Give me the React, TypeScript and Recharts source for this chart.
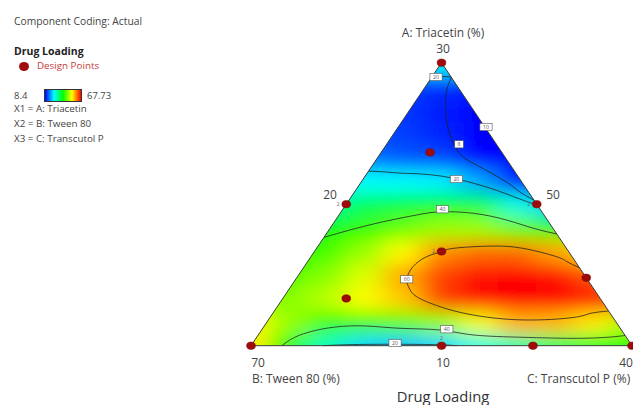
import React from 'react';
import { ComposedChart, XAxis, YAxis, Scatter, Line, Area } from 'recharts';

// ---------- colour scale (legend range) ----------
const VMIN = 8.4;
const VMAX = 67.73;
const colorStops: [number, number, number, number][] = [
  [0, 0, 0, 255],
  [0.25, 0, 255, 255],
  [0.5, 0, 255, 0],
  [0.75, 255, 255, 0],
  [1, 255, 0, 0],
];
function colorFor(v: number): string {
  let t = (v - VMIN) / (VMAX - VMIN);
  t = Math.max(0, Math.min(1, t));
  for (let i = 1; i < colorStops.length; i++) {
    const a = colorStops[i - 1];
    const b = colorStops[i];
    if (t <= b[0]) {
      const f = (t - a[0]) / (b[0] - a[0]);
      const r = Math.round(a[1] + (b[1] - a[1]) * f);
      const g = Math.round(a[2] + (b[2] - a[2]) * f);
      const bl = Math.round(a[3] + (b[3] - a[3]) * f);
      return `rgb(${r},${g},${bl})`;
    }
  }
  return 'rgb(255,0,0)';
}

// ---------- response surface (Drug Loading) ----------
// rows of the sampling grid: height in the triangle (0 = bottom edge, 1 = top vertex)
const fieldRowV = [-0.083, 0, 0.083, 0.167, 0.25, 0.333, 0.417, 0.5, 0.583, 0.667, 0.75, 0.833, 0.917, 1.0];
// first horizontal position of each row (columns step 0.1)
const fieldRowU0 = [-0.1, -0.1, -0.1, -0.1, 0.0, 0.0, 0.1, 0.1, 0.2, 0.2, 0.3, 0.3, 0.4, 0.4];
const fieldRowVals: number[][] = [
  [55, 54, 38, 27, 21, 20, 21, 25, 28, 32, 35, 38, 38],
  [55, 54, 38, 27, 21, 20, 21, 25, 28, 32, 35, 38, 38],
  [54, 53, 47, 41.5, 42, 43.5, 46.5, 52, 57.5, 57, 54, 48, 45],
  [46, 46, 46, 49, 53, 56, 64, 67, 67.7, 67.7, 67, 63, 58],
  [40, 43, 46, 51, 58, 64, 67, 67.7, 67.3, 63, 57],
  [36, 38, 42, 47, 53, 59.5, 61.5, 61.5, 58.5, 55, 52],
  [35, 37.5, 41, 44, 47, 47, 44, 39, 36],
  [28, 29, 33, 34.5, 35.5, 34, 25, 20, 20],
  [23, 23.5, 23, 22.5, 18, 8, 8],
  [16, 15, 13.5, 12.5, 8, 7, 7],
  [13, 12, 10.5, 7.5, 7],
  [12, 11.5, 10, 8, 8],
  [12, 11, 10],
  [20, 23, 20],
];
const fieldCells = fieldRowVals.flatMap((row, r) =>
  row.map((val, i) => ({ x: fieldRowU0[r] + i * 0.1, y: fieldRowV[r], val }))
);

// ---------- contour lines ----------
const toPts = (a: number[][]) => a.map(([x, y]) => ({ x, y }));
const contour20Top = toPts([[0.4747, 0.9495], [0.5, 0.951], [0.5253, 0.9495]]);
const contour10 = toPts([
  [0.526, 0.948], [0.514, 0.905], [0.511, 0.857], [0.513, 0.8], [0.52, 0.755], [0.535, 0.703],
  [0.554, 0.67], [0.5835, 0.6445], [0.662, 0.5855], [0.706, 0.543], [0.742, 0.515],
]);
const contour20Mid = toPts([
  [0.309, 0.617], [0.352, 0.614], [0.391, 0.61], [0.444, 0.607], [0.496, 0.6], [0.549, 0.586],
  [0.627, 0.557], [0.698, 0.522], [0.751, 0.497],
]);
const contour40Up = toPts([
  [0.192, 0.383], [0.26, 0.409], [0.347, 0.438], [0.435, 0.462], [0.496, 0.473], [0.583, 0.468],
  [0.671, 0.444], [0.741, 0.415], [0.802, 0.395],
]);
const contour60 = toPts([
  [0.863, 0.275], [0.829, 0.297], [0.802, 0.3145], [0.714, 0.344], [0.627, 0.352], [0.531, 0.344],
  [0.496, 0.331], [0.461, 0.3145], [0.425, 0.279], [0.409, 0.235], [0.415, 0.204], [0.435, 0.173],
  [0.496, 0.138], [0.583, 0.1085], [0.714, 0.091], [0.845, 0.0996], [0.89, 0.114], [0.938, 0.1226],
]);
const contour40Low = toPts([
  [0.081, 0], [0.129, 0.038], [0.215, 0.065], [0.304, 0.0696], [0.391, 0.0615], [0.496, 0.0555],
  [0.583, 0.038], [0.714, 0.0297], [0.845, 0.026], [0.934, 0.0297], [0.982, 0.036],
]);
const contour20Bot = toPts([[0.19, 0], [0.27, 0.004], [0.4, 0.005], [0.5, 0.003], [0.54, 0]]);
const contours = [contour20Top, contour10, contour20Mid, contour40Up, contour60, contour40Low, contour20Bot];

// contour value labels
const labelU = [0.4856, 0.6168, 0.546, 0.539, 0.5026, 0.4087, 0.514, 0.378];
const labelV = [0.9495, 0.7728, 0.7117, 0.589, 0.482, 0.2346, 0.058, 0.0095];
const labelText = ['20', '10', '8', '20', '40', '60', '40', '20'];
const contourLabels = labelU.map((x, i) => ({ x, y: labelV[i], t: labelText[i] }));

// ---------- design points ----------
const designU = [0.5, 0.47, 0.25, 0.75, 0.5, 0.88, 0.25, 0, 0.5, 0.74, 1];
const designV = [1, 0.683, 0.5, 0.5, 0.333, 0.24, 0.167, 0, 0, 0, 0];
const designPoints = designU.map((x, i) => ({ x, y: designV[i] }));
// replicate markers beside points
const replicateLeft = [{ x: 0.25, y: 0.5, t: '2' }, { x: 0.75, y: 0.5, t: '2' }, { x: 0.5, y: 0.333, t: '2' }];
const replicateAbove = [{ x: 0.5, y: 0, t: '2' }];

// triangle outline
const outline = toPts([[0, 0], [0.5, 1], [1, 0], [0, 0]]);
// white areas outside the triangle
const maskLeft = [{ x: 0, r: [0, 1.3] }, { x: 0.5, r: [1, 1.3] }];
const maskRight = [{ x: 0.5, r: [1, 1.3] }, { x: 1, r: [0, 1.3] }];

// ---------- text ----------
const legendTitle = 'Component Coding: Actual';
const responseName = 'Drug Loading';
const designLabel = 'Design Points';
const legendMin = '8.4';
const legendMax = '67.73';
const factorLines = ['X1 = A: Triacetin', 'X2 = B: Tween 80', 'X3 = C: Transcutol P'];
const vertexTicks = { top: '30', leftMid: '20', rightMid: '50', bl: '70', bm: '10', br: '40' };
const axisNames = { a: 'A: Triacetin (%)', b: 'B: Tween 80 (%)', c: 'C: Transcutol P (%)' };

const FONT = '"Open Sans", "Noto Sans", sans-serif';

const Txt = ({ x, y, size, children, anchor = 'start', color = '#444', weight = 400 }: any) => (
  <div
    style={{
      position: 'absolute',
      left: x,
      top: y - size * 0.5,
      fontSize: size,
      lineHeight: `${size}px`,
      color,
      fontWeight: weight,
      whiteSpace: 'nowrap',
      transform: anchor === 'middle' ? 'translateX(-50%)' : anchor === 'end' ? 'translateX(-100%)' : undefined,
    }}
  >
    {children}
  </div>
);

const FieldCell = (props: any) => {
  const { cx, cy, payload } = props;
  if (cx == null || cy == null) return null;
  return <rect x={cx - 20} y={cy - 12.5} width={40} height={25} fill={colorFor(payload.val)} />;
};

const DesignDot = (props: any) => {
  const { cx, cy } = props;
  if (cx == null || cy == null) return null;
  return <ellipse cx={cx} cy={cy} rx={4.4} ry={3.7} fill="#9e0b0b" stroke="#7a0505" strokeWidth={0.5} />;
};

const LabelBox = (props: any) => {
  const { cx, cy, payload } = props;
  if (cx == null || cy == null) return null;
  const w = payload.t.length * 3.6 + 5;
  return (
    <g>
      <rect x={cx - w / 2} y={cy - 3.6} width={w} height={7.2} fill="#fff" stroke="#555" strokeWidth={0.6} />
      <text x={cx} y={cy + 1.9} fontSize={5.2} textAnchor="middle" fill="#555" fontFamily={FONT}>
        {payload.t}
      </text>
    </g>
  );
};

const RepLeft = (props: any) => {
  const { cx, cy, payload } = props;
  if (cx == null || cy == null) return null;
  return (
    <text x={cx - 8} y={cy + 2} fontSize={5} textAnchor="middle" fill="#666" fontFamily={FONT}>
      {payload.t}
    </text>
  );
};
const RepAbove = (props: any) => {
  const { cx, cy, payload } = props;
  if (cx == null || cy == null) return null;
  return (
    <text x={cx} y={cy - 6} fontSize={5} textAnchor="middle" fill="#666" fontFamily={FONT}>
      {payload.t}
    </text>
  );
};

export default function App() {
  return (
    <div
      style={{
        position: 'absolute',
        left: 0,
        top: 0,
        width: 633,
        height: 405,
        overflow: 'hidden',
        background: '#fff',
        fontFamily: FONT,
      }}
    >
      <style>{`.field-layer { filter: url(#fieldBlur); }`}</style>
      <svg width={0} height={0} style={{ position: 'absolute' }}>
        <defs>
          <filter id="fieldBlur" x="-20%" y="-20%" width="140%" height="140%">
            <feGaussianBlur stdDeviation="13.5 9" />
          </filter>
        </defs>
      </svg>
      <div style={{ position: 'absolute', left: 0, top: 0 }}>
        <ComposedChart width={633} height={405} margin={{ top: 6.1, right: 1, bottom: 59.3, left: 251 }}>
          <XAxis xAxisId="f" type="number" dataKey="x" domain={[0, 1]} allowDataOverflow hide />
          <YAxis yAxisId="f" type="number" dataKey="y" domain={[0, 1.2]} allowDataOverflow hide />
          <XAxis type="number" dataKey="x" domain={[0, 1]} hide />
          <YAxis type="number" dataKey="y" domain={[0, 1.2]} hide />

          <Scatter
            xAxisId="f"
            yAxisId="f"
            data={fieldCells}
            className="field-layer"
            shape={FieldCell}
            isAnimationActive={false}
            zIndex={10}
          />
          <Area
            xAxisId="f"
            yAxisId="f"
            data={maskLeft}
            dataKey="r"
            type="linear"
            stroke="none"
            fill="#fff"
            fillOpacity={1}
            dot={false}
            activeDot={false}
            isAnimationActive={false}
            zIndex={20}
          />
          <Area
            xAxisId="f"
            yAxisId="f"
            data={maskRight}
            dataKey="r"
            type="linear"
            stroke="none"
            fill="#fff"
            fillOpacity={1}
            dot={false}
            activeDot={false}
            isAnimationActive={false}
            zIndex={21}
          />
          {contours.map((c, i) => (
            <Line
              key={i}
              data={c}
              dataKey="y"
              type="natural"
              stroke="#1e1e1e"
              strokeWidth={0.9}
              strokeOpacity={0.85}
              dot={false}
              activeDot={false}
              isAnimationActive={false}
              zIndex={30}
            />
          ))}
          <Line
            data={outline}
            dataKey="y"
            type="linear"
            stroke="#3a3a3a"
            strokeWidth={1}
            dot={false}
            activeDot={false}
            isAnimationActive={false}
            zIndex={40}
          />
          <Scatter data={contourLabels} shape={LabelBox} isAnimationActive={false} zIndex={50} />
          <Scatter data={replicateLeft} shape={RepLeft} isAnimationActive={false} zIndex={55} />
          <Scatter data={replicateAbove} shape={RepAbove} isAnimationActive={false} zIndex={55} />
          <Scatter data={designPoints} shape={DesignDot} isAnimationActive={false} zIndex={60} />
        </ComposedChart>
      </div>

      {/* left legend */}
      <Txt x={14} y={21.5} size={10.3} color="#444">{legendTitle}</Txt>
      <Txt x={14} y={51} size={10.5} color="#222" weight={700}>{responseName}</Txt>
      <div
        style={{
          position: 'absolute',
          left: 19,
          top: 61.5,
          width: 10,
          height: 9,
          borderRadius: '50%',
          background: '#9e0b0b',
        }}
      />
      <Txt x={37} y={66} size={9.8} color="#c23b3b">{designLabel}</Txt>
      <Txt x={14} y={95.5} size={9.5} color="#444">{legendMin}</Txt>
      <div
        style={{
          position: 'absolute',
          left: 44,
          top: 89,
          width: 38,
          height: 13,
          boxSizing: 'border-box',
          border: '1px solid #333',
          background: 'linear-gradient(to right, rgb(0,0,255), rgb(0,255,255), rgb(0,255,0), rgb(255,255,0), rgb(255,0,0))',
        }}
      />
      <Txt x={87} y={95.5} size={9.5} color="#444">{legendMax}</Txt>
      <Txt x={14} y={109} size={9.8} color="#444">{factorLines[0]}</Txt>
      <Txt x={14} y={124} size={9.8} color="#444">{factorLines[1]}</Txt>
      <Txt x={14} y={139} size={9.8} color="#444">{factorLines[2]}</Txt>

      {/* ternary axis texts */}
      <Txt x={443} y={33.3} size={12} anchor="middle" color="#444">{axisNames.a}</Txt>
      <Txt x={443} y={49} size={12} anchor="middle" color="#444">{vertexTicks.top}</Txt>
      <Txt x={330} y={195} size={12} anchor="middle" color="#444">{vertexTicks.leftMid}</Txt>
      <Txt x={553} y={195} size={12} anchor="middle" color="#444">{vertexTicks.rightMid}</Txt>
      <Txt x={258} y={363} size={12} anchor="middle" color="#444">{vertexTicks.bl}</Txt>
      <Txt x={443} y={363} size={12} anchor="middle" color="#444">{vertexTicks.bm}</Txt>
      <Txt x={626} y={363} size={12} anchor="middle" color="#444">{vertexTicks.br}</Txt>
      <Txt x={252} y={378.5} size={12} color="#444">{axisNames.b}</Txt>
      <Txt x={527} y={378.5} size={12} color="#444">{axisNames.c}</Txt>
      <Txt x={443} y={396} size={14.8} anchor="middle" color="#333">{responseName}</Txt>
    </div>
  );
}
